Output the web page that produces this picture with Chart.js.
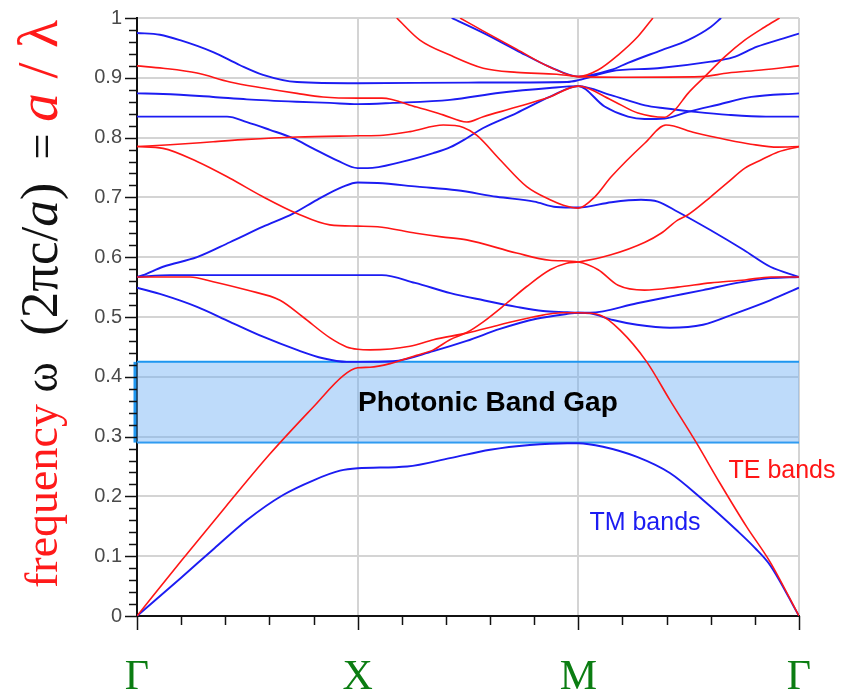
<!DOCTYPE html>
<html>
<head>
<meta charset="utf-8">
<script src="https://cdn.jsdelivr.net/npm/chart.js@4.4.1/dist/chart.umd.min.js"></script>
<style>
html,body{margin:0;padding:0;background:#fff;}
#wrap{width:842px;height:696px;position:relative;}
</style>
</head>
<body>
<div id="wrap"><canvas id="c" width="842" height="696"></canvas></div>
<script>
// ---- data ----
const pointLabels = ['Γ', 'X', 'M', 'Γ'];
const pointPos = [0, 1, 2, 3];
const yTickValues = [0, 0.1, 0.2, 0.3, 0.4, 0.5, 0.6, 0.7, 0.8, 0.9, 1];
const yTickLabels = ['0', '0.1', '0.2', '0.3', '0.4', '0.5', '0.6', '0.7', '0.8', '0.9', '1'];
const gapRange = [0.29, 0.425];

// TM bands (blue): [k-path position, frequency]
const tmBand1 = [[0,0],[0.2,0.064],[0.35,0.113],[0.5,0.161],[0.66,0.202],[0.8,0.227],[0.92,0.243],[1.0,0.247],[1.224,0.25],[1.418,0.264],[1.6,0.278],[1.78,0.286],[1.95,0.289],[2.0,0.289],[2.112,0.283],[2.266,0.266],[2.415,0.239],[2.565,0.194],[2.719,0.143],[2.8,0.114],[2.869,0.085],[3.0,0.0]];
const tmBand2 = [[0,0.549],[0.118,0.537],[0.272,0.517],[0.421,0.492],[0.571,0.467],[0.725,0.445],[0.843,0.431],[0.95,0.425],[1.0,0.425],[1.16,0.426],[1.343,0.443],[1.494,0.46],[1.645,0.48],[1.81,0.497],[1.947,0.505],[2.0,0.507],[2.053,0.506],[2.157,0.495],[2.266,0.487],[2.415,0.482],[2.565,0.487],[2.719,0.507],[2.869,0.528],[3.0,0.549]];
const tmBand3 = [[0,0.567],[0.15,0.57],[0.5,0.57],[1.0,0.57],[1.11,0.57],[1.26,0.557],[1.42,0.54],[1.57,0.528],[1.72,0.517],[1.84,0.51],[1.95,0.508],[2.0,0.507],[2.053,0.507],[2.266,0.523],[2.415,0.534],[2.565,0.545],[2.719,0.557],[2.869,0.565],[3.0,0.567]];
const tmBand4 = [[0,0.567],[0.027,0.57],[0.118,0.584],[0.272,0.6],[0.421,0.625],[0.571,0.651],[0.707,0.673],[0.816,0.696],[0.934,0.718],[1.0,0.725],[1.09,0.724],[1.27,0.718],[1.45,0.712],[1.63,0.701],[1.8,0.693],[1.9,0.684],[2.0,0.683],[2.15,0.692],[2.284,0.696],[2.36,0.693],[2.45,0.676],[2.6,0.645],[2.75,0.612],[2.87,0.584],[3.0,0.567]];
const tmBand5 = [[0,0.835],[0.408,0.835],[0.498,0.826],[0.602,0.813],[0.707,0.799],[0.797,0.782],[0.906,0.762],[1.0,0.749],[1.045,0.749],[1.195,0.759],[1.343,0.774],[1.42,0.784],[1.494,0.799],[1.569,0.816],[1.72,0.841],[1.87,0.868],[2.0,0.886],[2.148,0.871],[2.302,0.854],[2.39,0.849],[2.53,0.843],[2.68,0.838],[2.85,0.835],[3.0,0.835]];
const tmBand6 = [[0,0.874],[0.118,0.873],[0.345,0.868],[0.498,0.864],[0.725,0.86],[0.874,0.858],[1.0,0.856],[1.16,0.858],[1.418,0.863],[1.645,0.875],[1.87,0.883],[2.0,0.886],[2.119,0.852],[2.225,0.835],[2.3,0.831],[2.391,0.832],[2.497,0.843],[2.633,0.855],[2.784,0.868],[3.0,0.874]];
const tmBand7 = [[0,0.975],[0.104,0.972],[0.195,0.963],[0.345,0.943],[0.467,0.921],[0.571,0.905],[0.725,0.893],[1.0,0.891],[1.5,0.892],[1.95,0.893],[2.0,0.896],[2.148,0.911],[2.36,0.916],[2.6,0.927],[2.7,0.934],[2.81,0.952],[2.93,0.966],[3.0,0.974]];
const tmBand8 = [[1.426,1.0],[1.569,0.975],[1.72,0.946],[1.872,0.918],[2.0,0.902],[2.148,0.913],[2.225,0.925],[2.375,0.946],[2.497,0.963],[2.6,0.985],[2.647,1.0]];

// TE bands (red)
const teBand1 = [[0,0],[0.2,0.092],[0.4,0.182],[0.6,0.27],[0.8,0.35],[0.935,0.402],[1.0,0.415],[1.056,0.416],[1.147,0.422],[1.267,0.436],[1.343,0.445],[1.418,0.462],[1.494,0.474],[1.569,0.492],[1.675,0.523],[1.766,0.551],[1.872,0.579],[1.947,0.59],[2.0,0.592],[2.148,0.604],[2.302,0.625],[2.375,0.64],[2.45,0.662],[2.497,0.671],[2.6,0.701],[2.68,0.726],[2.755,0.749],[2.83,0.763],[2.905,0.776],[3.0,0.785]];
const teBand2 = [[0,0.567],[0.24,0.567],[0.345,0.559],[0.498,0.545],[0.648,0.528],[0.752,0.5],[0.875,0.465],[0.95,0.45],[1.0,0.446],[1.056,0.445],[1.237,0.451],[1.343,0.462],[1.494,0.473],[1.645,0.487],[1.795,0.5],[1.932,0.507],[2.0,0.507],[2.1,0.503],[2.189,0.478],[2.31,0.425],[2.415,0.361],[2.536,0.289],[2.642,0.222],[2.763,0.149],[2.868,0.091],[3.0,0.0]];
const teBand3 = [[0,0.785],[0.118,0.782],[0.272,0.76],[0.421,0.732],[0.571,0.701],[0.725,0.673],[0.874,0.654],[1.0,0.652],[1.09,0.651],[1.265,0.64],[1.38,0.634],[1.494,0.629],[1.72,0.607],[1.87,0.595],[2.0,0.592],[2.09,0.579],[2.18,0.553],[2.3,0.545],[2.45,0.55],[2.6,0.557],[2.755,0.562],[2.873,0.567],[3.0,0.567]];
const teBand4 = [[0,0.785],[0.15,0.788],[0.345,0.793],[0.498,0.797],[0.725,0.801],[1.0,0.803],[1.116,0.804],[1.237,0.81],[1.388,0.821],[1.479,0.817],[1.539,0.804],[1.645,0.763],[1.766,0.718],[1.872,0.696],[1.932,0.687],[2.0,0.682],[2.075,0.701],[2.148,0.734],[2.302,0.791],[2.397,0.821],[2.529,0.808],[2.678,0.796],[2.782,0.789],[2.905,0.784],[3.0,0.785]];
const teBand5 = [[0,0.92],[0.118,0.916],[0.272,0.908],[0.421,0.893],[0.571,0.883],[0.725,0.874],[0.843,0.868],[1.0,0.866],[1.11,0.866],[1.267,0.851],[1.387,0.838],[1.494,0.826],[1.569,0.835],[1.72,0.851],[1.87,0.868],[2.0,0.886],[2.149,0.863],[2.27,0.841],[2.391,0.834],[2.437,0.846],[2.497,0.874],[2.573,0.902],[2.663,0.935],[2.754,0.963],[2.845,0.985],[2.912,1.0]];
const teBand6 = [[1.177,1.0],[1.282,0.963],[1.418,0.938],[1.569,0.916],[1.721,0.909],[1.902,0.906],[2.0,0.902],[2.2,0.901],[2.557,0.902],[2.678,0.908],[2.829,0.913],[3.0,0.92]];
const teBand7 = [[1.464,1.0],[1.57,0.978],[1.72,0.948],[1.87,0.918],[2.0,0.902],[2.089,0.913],[2.18,0.938],[2.27,0.969],[2.338,1.0]];

const tmBands = [tmBand1, tmBand2, tmBand3, tmBand4, tmBand5, tmBand6, tmBand7, tmBand8];
const teBands = [teBand1, teBand2, teBand3, teBand4, teBand5, teBand6, teBand7];

// ---- styling ----
const TE_COLOR = 'rgb(255,22,22)';
const TM_COLOR = 'rgb(28,28,242)';
const GRID_COLOR = '#d4d4d4';
const GAP_LINE = 'rgb(30,150,240)';
const GAP_FILL = 'rgba(110,175,245,0.45)';

const notes = [
  {text: 'Photonic Band Gap', x: 1.59, y: 0.355, color: '#000', font: 'bold 28px "Liberation Sans", Arial, sans-serif'},
  {text: 'TE bands', x: 2.923, y: 0.2425, color: TE_COLOR, font: '25px "Liberation Sans", Arial, sans-serif'},
  {text: 'TM bands', x: 2.302, y: 0.1555, color: TM_COLOR, font: '25px "Liberation Sans", Arial, sans-serif'}
];

const SERIF = '"Liberation Serif", "Times New Roman", serif';
const yTitleParts = [
  {t: 'frequency', c: '#ff1a1a', f: '46px ' + SERIF},
  {t: ' ω', c: '#111', f: '46px ' + SERIF},
  {t: '  (2πc/', c: '#111', f: '53px ' + SERIF},
  {t: 'a', c: '#111', f: 'italic 53px ' + SERIF},
  {t: ')', c: '#111', f: '53px ' + SERIF},
  {t: '  = ', c: '#111', f: '46px ' + SERIF},
  {t: 'a', c: '#ff1a1a', f: 'italic 58px ' + SERIF},
  {t: ' / ', c: '#ff1a1a', f: '58px ' + SERIF},
  {t: 'λ', c: '#ff1a1a', f: '58px ' + SERIF}
];

const toXY = a => a.map(([x, y]) => ({x, y}));
const lineDs = (label, band, color, width) => ({
  label, data: toXY(band), borderColor: color, borderWidth: width,
  showLine: true, pointRadius: 0, cubicInterpolationMode: 'monotone', fill: false
});

const datasets = [];
teBands.forEach((b, i) => datasets.push(lineDs('TE ' + (i + 1), b, TE_COLOR, 1.6)));
tmBands.forEach((b, i) => datasets.push(lineDs('TM ' + (i + 1), b, TM_COLOR, 1.9)));
datasets.push({label: 'gap top', data: toXY([[0, gapRange[1]], [3, gapRange[1]]]), borderColor: GAP_LINE, borderWidth: 2,
  backgroundColor: GAP_FILL, fill: '+1', showLine: true, pointRadius: 0});
datasets.push({label: 'gap bottom', data: toXY([[0, gapRange[0]], [3, gapRange[0]]]), borderColor: GAP_LINE, borderWidth: 2,
  fill: false, showLine: true, pointRadius: 0});

const decor = {
  id: 'decor',
  afterDraw(chart) {
    const {ctx, scales: {x, y}, chartArea: a} = chart;
    ctx.save();
    // gap edge at the axis
    ctx.strokeStyle = GAP_LINE; ctx.lineWidth = 3;
    ctx.beginPath();
    ctx.moveTo(a.left - 2, y.getPixelForValue(gapRange[0]));
    ctx.lineTo(a.left - 2, y.getPixelForValue(gapRange[1]));
    ctx.stroke();
    // minor / major tick marks
    ctx.strokeStyle = '#111';
    ctx.lineWidth = 1.5;
    for (let i = 0; i <= 50; i++) {
      const py = Math.round(y.getPixelForValue(i / 50)) + 0.5;
      const len = i % 5 === 0 ? 12 : 8;
      ctx.beginPath(); ctx.moveTo(a.left - len, py); ctx.lineTo(a.left, py); ctx.stroke();
    }
    for (let i = 0; i <= 15; i++) {
      const px = Math.round(x.getPixelForValue(i / 5)) + 0.5;
      const len = i % 5 === 0 ? 14 : 9;
      ctx.beginPath(); ctx.moveTo(px, a.bottom); ctx.lineTo(px, a.bottom + len); ctx.stroke();
    }
    // annotations
    ctx.textAlign = 'center';
    ctx.textBaseline = 'middle';
    notes.forEach(n => {
      ctx.font = n.font; ctx.fillStyle = n.color;
      ctx.fillText(n.text, x.getPixelForValue(n.x), y.getPixelForValue(n.y));
    });
    // rotated y title with mixed colours
    ctx.translate(57, 588);
    ctx.rotate(-Math.PI / 2);
    ctx.textAlign = 'left';
    ctx.textBaseline = 'alphabetic';
    let pos = 0;
    yTitleParts.forEach(p => {
      ctx.font = p.f; ctx.fillStyle = p.c;
      ctx.fillText(p.t, pos, 0);
      pos += ctx.measureText(p.t).width;
    });
    ctx.restore();
  }
};

new Chart(document.getElementById('c'), {
  type: 'scatter',
  data: {datasets},
  options: {
    responsive: false,
    animation: false,
    devicePixelRatio: 1,
    layout: {padding: {top: 18, right: 43, left: 0, bottom: 0}},
    plugins: {legend: {display: false}, tooltip: {enabled: false}},
    scales: {
      x: {
        type: 'linear', min: 0, max: 3,
        afterFit: s => { s.height = 80; s.paddingLeft = 0; s.paddingRight = 0; },
        afterBuildTicks: s => { s.ticks = pointPos.map(v => ({value: v})); },
        ticks: {
          callback: (v, i) => pointLabels[i],
          font: {family: SERIF, size: 42}, color: '#0b7d12', padding: 37,
          maxRotation: 0, autoSkip: false
        },
        grid: {color: c => (c.tick && c.tick.value === 0) ? 'rgba(0,0,0,0)' : GRID_COLOR, lineWidth: 2, drawTicks: false},
        border: {color: '#111', width: 2}
      },
      y: {
        type: 'linear', min: 0, max: 1,
        afterFit: s => { s.width = 137; s.paddingTop = 0; s.paddingBottom = 0; },
        afterBuildTicks: s => { s.ticks = yTickValues.map(v => ({value: v})); },
        ticks: {
          callback: (v, i) => yTickLabels[i],
          font: {family: '"Liberation Sans", Arial, sans-serif', size: 20}, color: '#4a4a4a', padding: 15
        },
        grid: {color: c => (c.tick && c.tick.value === 0) ? 'rgba(0,0,0,0)' : GRID_COLOR, lineWidth: 2, drawTicks: false},
        border: {color: '#111', width: 2}
      }
    }
  },
  plugins: [decor]
});
</script>
</body>
</html>
